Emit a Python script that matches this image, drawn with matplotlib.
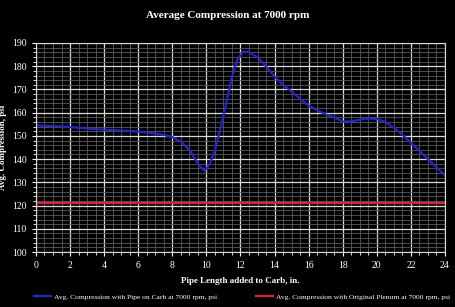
import numpy as np
import matplotlib.pyplot as plt
from matplotlib.ticker import MultipleLocator

plt.rcParams['font.family'] = ['Liberation Serif', 'DejaVu Serif']

# pipe length added to carb (in.) and average compression (psi)
comprimento = [0, 1, 2, 3, 4, 5, 6, 7, 7.5, 8, 8.5, 9, 9.3, 9.6, 9.9,
               10.2, 10.5, 10.9, 11.2, 11.5, 11.8, 12.15, 12.45, 12.95,
               13.35, 14, 14.5, 15, 15.5, 16, 16.5, 17, 17.5, 18, 18.5, 19,
               19.5, 20, 20.5, 21, 21.5, 22, 22.5, 23, 23.5, 24]
compressao_pipe = [154.5, 154.2, 153.8, 153.2, 152.7, 152.3, 151.9, 151.0,
                   150.4, 149.5, 147.5, 144.0, 140.5, 137.0, 135.0, 138.0,
                   143.7, 155.3, 165.3, 175.4, 182.6, 186.2, 186.2, 184.1,
                   181.2, 175.5, 172.0, 169.0, 166.0, 163.0, 161.0, 159.3,
                   158.0, 156.2, 156.2, 157.0, 157.5, 157.3, 156.0, 153.5,
                   150.5, 147.0, 143.5, 140.0, 136.5, 133.0]
compressao_plenum = [121, 121]
x_plenum = [0, 24]

fig = plt.figure(figsize=(4.55, 3.07), dpi=100, facecolor="black")
ax = fig.add_axes([0.079, 0.179, 0.899, 0.681], facecolor="black")

ax.plot(comprimento, compressao_pipe, color="#2424d0", lw=1.6,
        label="Avg. Compression with Pipe on Carb at 7000 rpm, psi")
ax.plot(x_plenum, compressao_plenum, color="#e0203a", lw=1.6,
        label="Avg. Compression with Original Plenum at 7000 rpm, psi")

ax.set_xlim(0, 24)
ax.set_ylim(100, 190)
ax.xaxis.set_major_locator(MultipleLocator(2))
ax.xaxis.set_minor_locator(MultipleLocator(0.5))
ax.yaxis.set_major_locator(MultipleLocator(10))
ax.yaxis.set_minor_locator(MultipleLocator(2))
ax.grid(which="major", color="#d8d8d8", lw=0.9)
ax.grid(which="minor", color="#5a5a5a", lw=0.6)
ax.set_axisbelow(True)

for s in ax.spines.values():
    s.set_color("#d8d8d8")
ax.tick_params(which="both", colors="white", labelsize=7, length=2)
ax.tick_params(which="major", length=3)

ax.set_xlabel("Pipe Length added to Carb, in.", color="white",
              fontsize=6.5, fontweight="bold", labelpad=5)
ax.set_ylabel("Avg. Compression, psi", color="white",
              fontsize=6.5, fontweight="bold", labelpad=4)
fig.text(0.5, 0.951, "Average Compression at 7000 rpm", color="white",
         fontsize=8, fontweight="bold", ha="center", va="center")

leg = fig.legend(loc="center", bbox_to_anchor=(0.532, 0.033), ncol=2,
                 frameon=False, fontsize=5.4, handlelength=2.2,
                 columnspacing=5.3, handletextpad=0.4)
for t in leg.get_texts():
    t.set_color("white")

plt.savefig("out.png", dpi=100, facecolor="black")
